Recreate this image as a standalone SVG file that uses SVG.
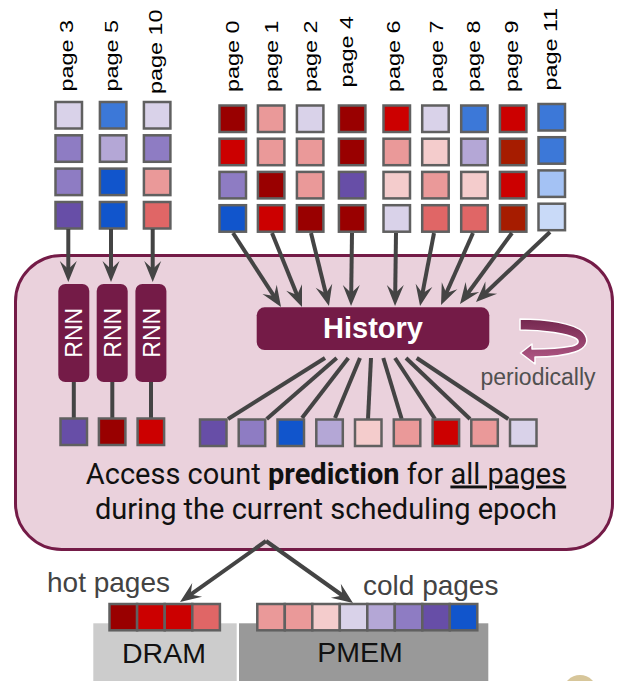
<svg xmlns="http://www.w3.org/2000/svg" width="617" height="681" viewBox="0 0 617 681">
  <defs>
    <style>
      .sq { stroke: #606060; stroke-width: 2.5; }
      .lbl { font-family: "Liberation Sans", Arial, sans-serif; font-size: 18px; fill: #000; }
      .rnn-box { fill: #741b47; }
      .rnn-txt { font-family: "Liberation Sans", Arial, sans-serif; font-size: 23px; fill: #fff; text-anchor: middle; }
      .wire { stroke: #444; stroke-width: 4; fill: none; }
      .arrow { stroke: #444; stroke-width: 4; fill: none; marker-end: url(#head); }
      .note { font-family: "Liberation Sans", Arial, sans-serif; font-size: 28px; fill: #434343; }
      .mem { font-family: "Liberation Sans", Arial, sans-serif; font-size: 28.5px; fill: #111; text-anchor: middle; }
    </style>
    <marker id="head" markerUnits="userSpaceOnUse" viewBox="-10 -10 24 20" markerWidth="24" markerHeight="20" refX="0" refY="0" orient="auto">
      <path d="M12,0 L-9,-8.5 L-1,0 L-9,8.5 Z" fill="#444"/>
    </marker>
    <linearGradient id="loopFill" x1="0" y1="0" x2="0" y2="1">
      <stop offset="0" stop-color="#74284f"/>
      <stop offset="1" stop-color="#b45a88"/>
    </linearGradient>
  </defs>

  <rect width="617" height="681" fill="#fff"/>

  <!-- prediction engine container -->
  <g id="engine">
    <rect x="15.5" y="255.5" width="597" height="294" rx="46" ry="46" fill="#ead1dc" stroke="#741b47" stroke-width="3"/>
    <text x="326" y="483.5" text-anchor="middle" font-family="Roboto, 'Liberation Sans', sans-serif" font-size="29" fill="#111">Access count <tspan font-weight="bold">prediction</tspan> for <tspan text-decoration="underline">all pages</tspan></text>
    <text x="326" y="519" text-anchor="middle" font-family="Roboto, 'Liberation Sans', sans-serif" font-size="29" fill="#111">during the current scheduling epoch</text>
  </g>

  <!-- per-page access history columns -->
  <g id="page3">
    <text class="lbl" transform="translate(73,91.5) rotate(-90) scale(1.3,1)">page 3</text>
    <rect class="sq" x="55.5" y="102" width="26.5" height="26.5" fill="#d9d2e9"/>
    <rect class="sq" x="55.5" y="135.3" width="26.5" height="26.5" fill="#8e7cc3"/>
    <rect class="sq" x="55.5" y="168.6" width="26.5" height="26.5" fill="#8e7cc3"/>
    <rect class="sq" x="55.5" y="202" width="26.5" height="26.5" fill="#674ea7"/>
  </g>
  <g id="page5">
    <text class="lbl" transform="translate(118,91.5) rotate(-90) scale(1.3,1)">page 5</text>
    <rect class="sq" x="99.9" y="102" width="26.5" height="26.5" fill="#3c78d8"/>
    <rect class="sq" x="99.9" y="135.3" width="26.5" height="26.5" fill="#b4a7d6"/>
    <rect class="sq" x="99.9" y="168.6" width="26.5" height="26.5" fill="#1155cc"/>
    <rect class="sq" x="99.9" y="202" width="26.5" height="26.5" fill="#1155cc"/>
  </g>
  <g id="page10">
    <text class="lbl" transform="translate(161.5,94) rotate(-90) scale(1.3,1)">page 10</text>
    <rect class="sq" x="143.9" y="102" width="26.5" height="26.5" fill="#d9d2e9"/>
    <rect class="sq" x="143.9" y="135.3" width="26.5" height="26.5" fill="#8e7cc3"/>
    <rect class="sq" x="143.9" y="168.6" width="26.5" height="26.5" fill="#ea9999"/>
    <rect class="sq" x="143.9" y="202" width="26.5" height="26.5" fill="#e06666"/>
  </g>
  <g id="page0">
    <text class="lbl" transform="translate(239,92) rotate(-90) scale(1.3,1)">page 0</text>
    <rect class="sq" x="219.5" y="105.5" width="26.5" height="26.5" fill="#990000"/>
    <rect class="sq" x="219.5" y="138.7" width="26.5" height="26.5" fill="#cc0000"/>
    <rect class="sq" x="219.5" y="171.9" width="26.5" height="26.5" fill="#8e7cc3"/>
    <rect class="sq" x="219.5" y="205.2" width="26.5" height="26.5" fill="#1155cc"/>
  </g>
  <g id="page1">
    <text class="lbl" transform="translate(278,92) rotate(-90) scale(1.3,1)">page 1</text>
    <rect class="sq" x="257.9" y="105.5" width="26.5" height="26.5" fill="#ea9999"/>
    <rect class="sq" x="257.9" y="138.7" width="26.5" height="26.5" fill="#ea9999"/>
    <rect class="sq" x="257.9" y="171.9" width="26.5" height="26.5" fill="#990000"/>
    <rect class="sq" x="257.9" y="205.2" width="26.5" height="26.5" fill="#cc0000"/>
  </g>
  <g id="page2">
    <text class="lbl" transform="translate(316.5,92) rotate(-90) scale(1.3,1)">page 2</text>
    <rect class="sq" x="296.9" y="105.5" width="26.5" height="26.5" fill="#d9d2e9"/>
    <rect class="sq" x="296.9" y="138.7" width="26.5" height="26.5" fill="#ea9999"/>
    <rect class="sq" x="296.9" y="171.9" width="26.5" height="26.5" fill="#ea9999"/>
    <rect class="sq" x="296.9" y="205.2" width="26.5" height="26.5" fill="#990000"/>
  </g>
  <g id="page4">
    <text class="lbl" transform="translate(353,87.5) rotate(-90) scale(1.3,1)">page 4</text>
    <rect class="sq" x="338.9" y="105.5" width="26.5" height="26.5" fill="#990000"/>
    <rect class="sq" x="338.9" y="138.7" width="26.5" height="26.5" fill="#990000"/>
    <rect class="sq" x="338.9" y="171.9" width="26.5" height="26.5" fill="#674ea7"/>
    <rect class="sq" x="338.9" y="205.2" width="26.5" height="26.5" fill="#990000"/>
  </g>
  <g id="page6">
    <text class="lbl" transform="translate(399.5,92) rotate(-90) scale(1.3,1)">page 6</text>
    <rect class="sq" x="383.5" y="105.5" width="26.5" height="26.5" fill="#cc0000"/>
    <rect class="sq" x="383.5" y="138.7" width="26.5" height="26.5" fill="#ea9999"/>
    <rect class="sq" x="383.5" y="171.9" width="26.5" height="26.5" fill="#f4cccc"/>
    <rect class="sq" x="383.5" y="205.2" width="26.5" height="26.5" fill="#d9d2e9"/>
  </g>
  <g id="page7">
    <text class="lbl" transform="translate(443,92) rotate(-90) scale(1.3,1)">page 7</text>
    <rect class="sq" x="422.2" y="105.5" width="26.5" height="26.5" fill="#d9d2e9"/>
    <rect class="sq" x="422.2" y="138.7" width="26.5" height="26.5" fill="#f4cccc"/>
    <rect class="sq" x="422.2" y="171.9" width="26.5" height="26.5" fill="#ea9999"/>
    <rect class="sq" x="422.2" y="205.2" width="26.5" height="26.5" fill="#e06666"/>
  </g>
  <g id="page8">
    <text class="lbl" transform="translate(480,92) rotate(-90) scale(1.3,1)">page 8</text>
    <rect class="sq" x="461.2" y="105.5" width="26.5" height="26.5" fill="#3c78d8"/>
    <rect class="sq" x="461.2" y="138.7" width="26.5" height="26.5" fill="#b4a7d6"/>
    <rect class="sq" x="461.2" y="171.9" width="26.5" height="26.5" fill="#f4cccc"/>
    <rect class="sq" x="461.2" y="205.2" width="26.5" height="26.5" fill="#e06666"/>
  </g>
  <g id="page9">
    <text class="lbl" transform="translate(518,92) rotate(-90) scale(1.3,1)">page 9</text>
    <rect class="sq" x="499.9" y="105.5" width="26.5" height="26.5" fill="#cc0000"/>
    <rect class="sq" x="499.9" y="138.7" width="26.5" height="26.5" fill="#a61c00"/>
    <rect class="sq" x="499.9" y="171.9" width="26.5" height="26.5" fill="#cc0000"/>
    <rect class="sq" x="499.9" y="205.2" width="26.5" height="26.5" fill="#a61c00"/>
  </g>
  <g id="page11">
    <text class="lbl" transform="translate(556.5,90.5) rotate(-90) scale(1.3,1)">page 11</text>
    <rect class="sq" x="538.5" y="104" width="26.5" height="26.5" fill="#3c78d8"/>
    <rect class="sq" x="538.5" y="137.2" width="26.5" height="26.5" fill="#3c78d8"/>
    <rect class="sq" x="538.5" y="170.4" width="26.5" height="26.5" fill="#a4c2f4"/>
    <rect class="sq" x="538.5" y="203.7" width="26.5" height="26.5" fill="#c9daf8"/>
  </g>

  <!-- connectors -->
  <g id="connectors">
    <path class="arrow" d="M68.3,229 L68.3,270"/>
    <path class="arrow" d="M111,229 L111,270"/>
    <path class="arrow" d="M152.7,229 L152.7,270"/>

    <path class="arrow" d="M233,233 L274.5,296.9"/>
    <path class="arrow" d="M272,233 L297.5,295.9"/>
    <path class="arrow" d="M311,233 L326.1,294.4"/>
    <path class="arrow" d="M352,233 L351.2,294"/>
    <path class="arrow" d="M396,233 L395.2,294"/>
    <path class="arrow" d="M434,233 L422.3,294.2"/>
    <path class="arrow" d="M473,233 L445.9,294"/>
    <path class="arrow" d="M512,233 L467.1,294.3"/>
    <path class="arrow" d="M550,232 L484.7,293.8"/>

    <path class="wire" d="M73.8,381 L73.8,418"/>
    <path class="wire" d="M112.3,381 L112.3,418"/>
    <path class="wire" d="M151,381 L151,418"/>

    <path class="wire" d="M325,358 L228,419"/>
    <path class="wire" d="M336.7,358 L266.7,419"/>
    <path class="wire" d="M348.3,358 L302,418"/>
    <path class="wire" d="M360,358 L335,418"/>
    <path class="wire" d="M371,358 L368,419"/>
    <path class="wire" d="M383.3,358 L401.7,419"/>
    <path class="wire" d="M395,358 L435,419"/>
    <path class="wire" d="M406,358 L470,419"/>
    <path class="wire" d="M416.7,358 L508.3,419"/>

    <path class="arrow" d="M266,541 L189.8,595.1"/>
    <path class="arrow" d="M266,541 L343.2,596"/>
  </g>

  <!-- per-page predictors -->
  <g id="rnn3">
    <rect class="rnn-box" x="58.3" y="284" width="31" height="98" rx="7"/>
    <text class="rnn-txt" transform="translate(82.3,332.8) rotate(-90)">RNN</text>
    <rect class="sq" x="60.5" y="418.5" width="26.5" height="26.5" fill="#674ea7"/>
  </g>
  <g id="rnn5">
    <rect class="rnn-box" x="96.7" y="284" width="31" height="98" rx="7"/>
    <text class="rnn-txt" transform="translate(120.8,332.8) rotate(-90)">RNN</text>
    <rect class="sq" x="98.9" y="418.5" width="26.5" height="26.5" fill="#990000"/>
  </g>
  <g id="rnn10">
    <rect class="rnn-box" x="135.4" y="284" width="31" height="98" rx="7"/>
    <text class="rnn-txt" transform="translate(159.5,332.8) rotate(-90)">RNN</text>
    <rect class="sq" x="137.6" y="418.5" width="26.5" height="26.5" fill="#cc0000"/>
  </g>

  <!-- shared history model -->
  <g id="history">
    <rect x="256.7" y="307.3" width="232.6" height="42.7" rx="8" fill="#741b47"/>
    <text x="373" y="338.3" text-anchor="middle" font-family="'Liberation Sans', Arial, sans-serif" font-size="29" font-weight="bold" fill="#fff">History</text>
  </g>

  <g id="history-outputs">
    <rect class="sq" x="200" y="419.5" width="26.5" height="26.5" fill="#674ea7"/>
    <rect class="sq" x="238.7" y="419.5" width="26.5" height="26.5" fill="#8e7cc3"/>
    <rect class="sq" x="277.5" y="419.5" width="26.5" height="26.5" fill="#1155cc"/>
    <rect class="sq" x="316.3" y="419.5" width="26.5" height="26.5" fill="#b4a7d6"/>
    <rect class="sq" x="355" y="419.5" width="26.5" height="26.5" fill="#f4cccc"/>
    <rect class="sq" x="393.8" y="419.5" width="26.5" height="26.5" fill="#ea9999"/>
    <rect class="sq" x="432.6" y="419.5" width="26.5" height="26.5" fill="#cc0000"/>
    <rect class="sq" x="471.3" y="419.5" width="26.5" height="26.5" fill="#ea9999"/>
    <rect class="sq" x="510" y="419.5" width="26.5" height="26.5" fill="#d9d2e9"/>
  </g>

  <!-- periodic refresh loop -->
  <g id="periodic">
    <path d="M520,319 C545,319 574,323 583,332 C590,340 587,348 575,352 C563,356 548,357 535,357 L535,364 L520.5,353 L532,344 L532,349 C548,349 562,348 572,346 C579,344 580,341 575,338 C567,334 545,330 520,330 Z" fill="url(#loopFill)" stroke="#fff" stroke-width="1.5" stroke-linejoin="round"/>
    <text x="480.5" y="385" font-family="'Liberation Sans', Arial, sans-serif" font-size="23" fill="#505050">periodically</text>
  </g>

  <!-- memory tiers -->
  <g id="dram">
    <rect x="93.3" y="623.3" width="143.4" height="60" fill="#cccccc"/>
    <text class="mem" x="164" y="662.7">DRAM</text>
    <text class="note" x="47" y="592">hot pages</text>
    <rect class="sq" x="109.5" y="604" width="27.6" height="26.3" fill="#990000"/>
    <rect class="sq" x="137.1" y="604" width="27.6" height="26.3" fill="#cc0000"/>
    <rect class="sq" x="164.7" y="604" width="27.6" height="26.3" fill="#cc0000"/>
    <rect class="sq" x="192.3" y="604" width="27.6" height="26.3" fill="#e06666"/>
  </g>
  <g id="pmem">
    <rect x="239" y="623.3" width="249.3" height="60" fill="#999999"/>
    <text class="mem" x="360" y="661.7">PMEM</text>
    <text class="note" x="363" y="595">cold pages</text>
    <rect class="sq" x="257.3" y="604" width="27.5" height="26.3" fill="#ea9999"/>
    <rect class="sq" x="284.8" y="604" width="27.5" height="26.3" fill="#ea9999"/>
    <rect class="sq" x="312.3" y="604" width="27.5" height="26.3" fill="#f4cccc"/>
    <rect class="sq" x="339.8" y="604" width="27.5" height="26.3" fill="#d9d2e9"/>
    <rect class="sq" x="367.3" y="604" width="27.5" height="26.3" fill="#b4a7d6"/>
    <rect class="sq" x="394.8" y="604" width="27.5" height="26.3" fill="#8e7cc3"/>
    <rect class="sq" x="422.3" y="604" width="27.5" height="26.3" fill="#674ea7"/>
    <rect class="sq" x="449.8" y="604" width="27.5" height="26.3" fill="#1155cc"/>
  </g>

  <!-- corner emblem -->
  <circle cx="580" cy="692" r="17" fill="#d7c69a"/>
</svg>
